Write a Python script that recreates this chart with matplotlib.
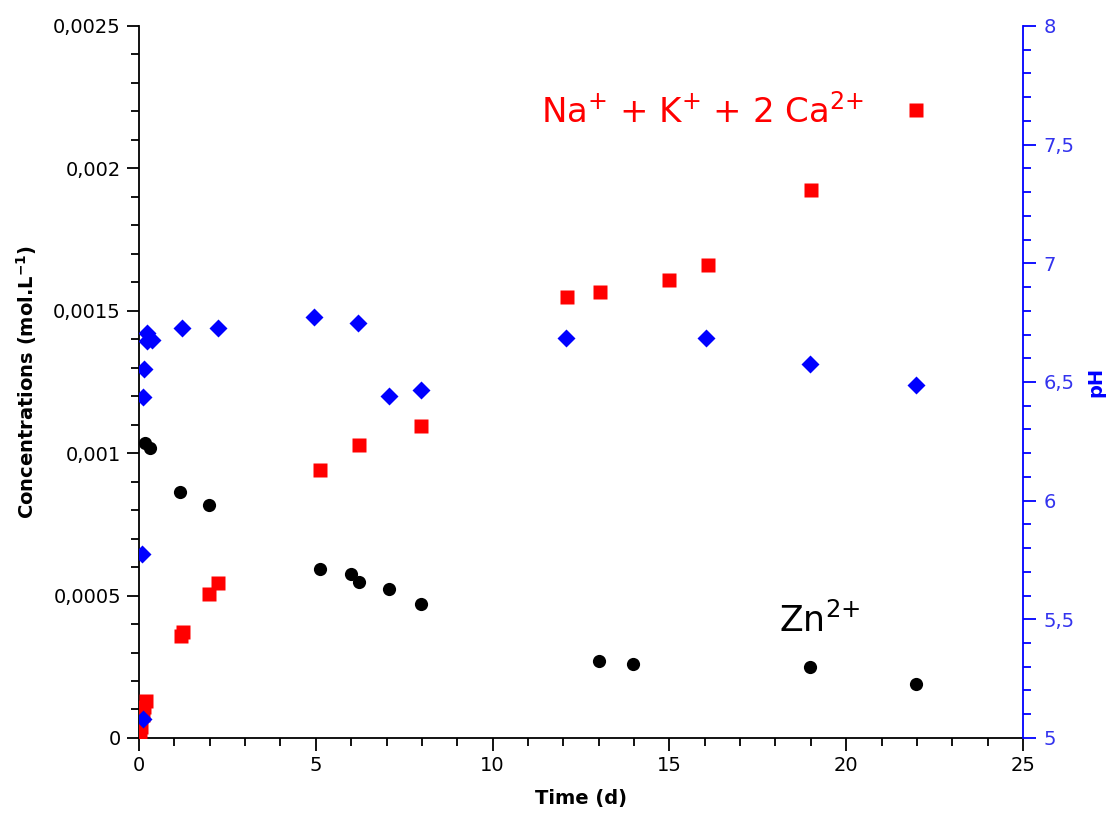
import matplotlib.pyplot as plt
from matplotlib.ticker import MultipleLocator, FuncFormatter

# Na+ + K+ + 2 Ca2+ (mol/L)
t_cat = [0.02, 0.06, 0.1, 0.15, 0.2, 1.19, 1.24, 1.98, 2.23, 5.12, 6.22, 7.97,
         12.10, 13.04, 14.99, 16.09, 19.0, 21.97]
c_cat = [0.00001, 0.00004, 0.00008, 0.00011, 0.00013, 0.000358, 0.000372, 0.000506,
         0.000544, 0.000941, 0.001029, 0.001096, 0.001549, 0.001566, 0.001608,
         0.001661, 0.001924, 0.002205]

# Zn2+ (mol/L)
t_zn = [0.17, 0.31, 1.16, 1.98, 5.12, 6.0, 6.22, 7.07, 7.97, 13.0, 13.97, 18.98, 21.97]
c_zn = [0.001036, 0.001018, 0.000864, 0.000818, 0.000593, 0.000576, 0.000548,
        0.000523, 0.000470, 0.000270, 0.000260, 0.000249, 0.000190]

# pH
t_ph = [0.1, 0.08, 0.1, 0.14, 0.22, 0.22, 0.36, 1.22, 2.23, 4.95, 6.19, 7.07, 7.97,
        12.08, 16.03, 18.98, 21.97]
ph = [5.08, 5.775, 6.437, 6.555, 6.673, 6.706, 6.677, 6.728, 6.728, 6.774, 6.749,
      6.441, 6.466, 6.685, 6.685, 6.576, 6.487]

plt.rcParams['font.family'] = 'DejaVu Sans'
blue = '#0000ff'
tick_blue = '#3333ee'

fig = plt.figure(figsize=(11.13, 8.25), dpi=100)
ax = fig.add_axes([0.1249, 0.1055, 0.7942, 0.863])
ax2 = ax.twinx()

ax.plot(t_cat, c_cat, 's', color='#ff0000', ms=9.5, mec='none', zorder=3)
ax.plot(t_zn, c_zn, 'o', color='black', ms=9.5, mec='none', zorder=3)
ax2.plot(t_ph, ph, 'D', color=blue, ms=9, mec='none', zorder=3)

ax.set_xlim(0, 25)
ax.set_ylim(0, 0.0025)
ax2.set_ylim(5, 8)

ax.xaxis.set_major_locator(MultipleLocator(5))
ax.xaxis.set_minor_locator(MultipleLocator(1))
ax.yaxis.set_major_locator(MultipleLocator(0.0005))
ax.yaxis.set_minor_locator(MultipleLocator(0.0001))
ax2.yaxis.set_major_locator(MultipleLocator(0.5))
ax2.yaxis.set_minor_locator(MultipleLocator(0.1))

comma = FuncFormatter(lambda v, p: ('%g' % round(v, 6)).replace('.', ','))
ax.yaxis.set_major_formatter(comma)
ax2.yaxis.set_major_formatter(comma)

for s in ['top']:
    ax.spines[s].set_visible(False)
    ax2.spines[s].set_visible(False)
ax2.spines['left'].set_visible(False)
ax2.spines['bottom'].set_visible(False)
ax.spines['right'].set_visible(False)
ax2.spines['right'].set_color(blue)
for sp in ax.spines.values():
    sp.set_linewidth(1.3)
ax2.spines['right'].set_linewidth(1.3)

ax.tick_params(which='major', length=9, width=1.3, labelsize=14, pad=4)
ax.tick_params(which='minor', length=6, width=1.3)
ax2.tick_params(which='major', length=9, width=1.3, labelsize=14, pad=6,
                color=blue, labelcolor=tick_blue)
ax2.tick_params(which='minor', length=6, width=1.3, color=blue)

ax.set_xlabel('Time (d)', fontsize=14, fontweight='bold', labelpad=10)
ax.set_ylabel('Concentrations (mol.L$^{\\mathbf{-1}}$)', fontsize=14,
              fontweight='bold', labelpad=10)
ax2.set_ylabel('pH', fontsize=14, fontweight='bold', color=blue,
               rotation=90, labelpad=8)

ax.text(20.5, 0.002198, 'Na$^{+}$ + K$^{+}$ + 2 Ca$^{2{+}}$', color='#ff0000',
        fontsize=24.5, ha='right', va='center')
ax.text(18.1, 0.00041, 'Zn$^{2{+}}$', color='black', fontsize=25,
        ha='left', va='center')

fig.savefig('out.png', dpi=100)
